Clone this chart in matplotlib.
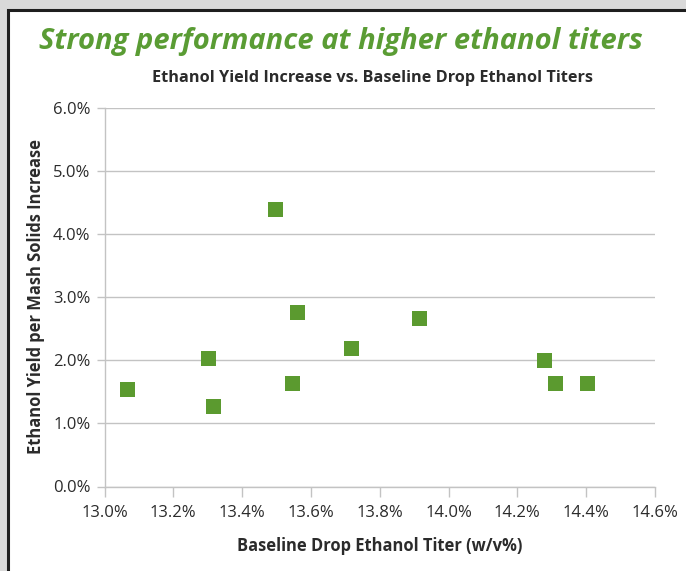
import matplotlib
matplotlib.use("Agg")
import matplotlib.pyplot as plt
from matplotlib.patches import Rectangle
from matplotlib.ticker import FuncFormatter

# baseline drop titer (w/v %) and yield increase (%)
titer = [13.066, 13.302, 13.316, 13.497, 13.546, 13.560, 13.717, 13.915, 14.276, 14.310, 14.401]
yield_inc = [1.54, 2.04, 1.28, 4.39, 1.635, 2.76, 2.19, 2.67, 2.00, 1.635, 1.635]

x_ticks = [13.0, 13.2, 13.4, 13.6, 13.8, 14.0, 14.2, 14.4, 14.6]
y_ticks = [0, 1, 2, 3, 4, 5, 6]

green = "#5b9a2f"
title_green = "#5a9c34"
grid_col = "#c3c3c3"
txt = "#2b2b2b"

fig = plt.figure(figsize=(6.86, 5.71), dpi=100)
fig.patch.set_facecolor("#d9d9d9")

# white panel with dark border on left/top
panel = Rectangle((8 / 686, -0.05), 1.0, (571 - 10) / 571 + 0.05, transform=fig.transFigure,
                  facecolor="white", edgecolor="#1e1e1e", linewidth=2.2, zorder=-10)
fig.patches.append(panel)

ax = fig.add_axes([104.5 / 686, 1 - 486.5 / 571, (655 - 104.5) / 686, (486.5 - 107.5) / 571])
ax.set_facecolor("none")

ax.plot(titer, yield_inc, linestyle="none", marker="s", markersize=10.8,
        color=green, markeredgewidth=0, zorder=3, clip_on=False)

ax.set_xlim(13.0, 14.6)
ax.set_ylim(0, 6)
ax.set_xticks(x_ticks)
ax.set_yticks(y_ticks)
ax.xaxis.set_major_formatter(FuncFormatter(lambda v, p: f"{v:.1f}%"))
ax.yaxis.set_major_formatter(FuncFormatter(lambda v, p: f"{v:.1f}%"))

ax.grid(axis="y", color=grid_col, linewidth=1.0)
ax.set_axisbelow(True)
for s in ["top", "right"]:
    ax.spines[s].set_visible(False)
for s in ["left", "bottom"]:
    ax.spines[s].set_color(grid_col)
    ax.spines[s].set_linewidth(1.0)

ax.tick_params(axis="x", length=7.5, width=1.0, color=grid_col, labelsize=12, labelcolor=txt, pad=6)
ax.tick_params(axis="y", length=6, width=1.0, color=grid_col, labelsize=12, labelcolor=txt, pad=4)
for lab in ax.get_xticklabels() + ax.get_yticklabels():
    lab.set_fontfamily("Open Sans")

ax.set_xlabel("Baseline Drop Ethanol Titer (w/v%)", fontsize=11.9, fontweight="bold",
              family="Open Sans", color=txt, labelpad=11)
ax.set_ylabel("Ethanol Yield per Mash Solids Increase", fontsize=11.9, fontweight="bold",
              family="Open Sans", color=txt, labelpad=6)

fig.text(341 / 686, 1 - 42 / 571, "Strong performance at higher ethanol titers",
         fontsize=21, fontweight="bold", style="italic", family="Open Sans",
         color=title_green, ha="center", va="center")
fig.text(372 / 686, 1 - 78 / 571, "Ethanol Yield Increase vs. Baseline Drop Ethanol Titers",
         fontsize=11.7, fontweight="bold", family="Open Sans", color=txt, ha="center", va="center")

fig.savefig("out.png", dpi=100, facecolor=fig.get_facecolor())
